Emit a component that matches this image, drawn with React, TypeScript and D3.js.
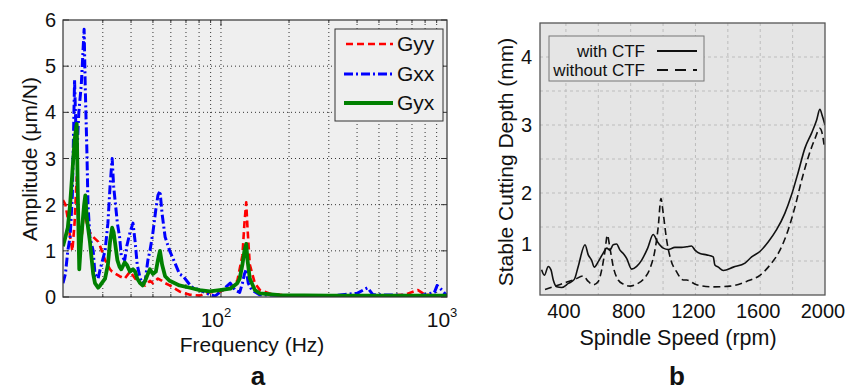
import React from 'react';
import * as d3 from 'd3';

// ---- panel a: FRF amplitudes ----
const freqGyy = [20, 20.5, 21, 21.5, 22, 22.5, 23, 23.5, 24.1, 24.8, 25.5, 26.3, 27.2, 28.6, 29.2, 30.7, 32.3, 33, 35.6, 37.5, 39.6, 41.7, 43.9, 46.2, 48.5, 50, 52.6, 54.9, 56.6, 59.3, 65.5, 72.8, 80.5, 89.1, 98.7, 109.9, 118.1, 124.4, 127, 129.3, 131, 134.1, 141.2, 148.7, 165, 200, 300, 500, 650, 744, 800, 1000];
const ampGyy = [2.1, 2.0, 1.7, 1.3, 1.0, 1.6, 2.6, 1.5, 1.2, 1.9, 1.6, 1.4, 1.3, 1.2, 1.1, 0.8, 0.6, 0.55, 0.45, 0.4, 0.55, 0.4, 0.3, 0.25, 0.35, 0.3, 0.4, 0.35, 0.3, 0.25, 0.12, 0.05, 0.03, 0.1, 0.12, 0.2, 0.35, 0.9, 1.6, 2.05, 1.5, 0.7, 0.3, 0.15, 0.07, 0.03, 0.02, 0.02, 0.05, 0.15, 0.05, 0.02];

const freqGxx = [20, 20.5, 21, 21.5, 22, 22.5, 23, 23.5, 24.1, 24.8, 25.1, 25.5, 25.8, 26.3, 27.2, 27.7, 28.6, 29.2, 30.7, 31.6, 32.3, 33, 33.5, 34.8, 35.6, 36.2, 37.5, 38.3, 39.6, 40.8, 41.7, 42.6, 43.9, 45, 46.2, 47.5, 48.5, 50, 51.5, 52.6, 53.7, 54.9, 56.6, 59.3, 62.4, 65.5, 68, 74, 80.5, 89.1, 94.1, 98.7, 104.3, 109.9, 115.3, 121, 124.4, 127, 129.3, 132, 137, 148, 200, 300, 400, 445, 470, 620, 750, 880, 904, 950, 1000];
const ampGxx = [0.3, 0.5, 1.0, 1.3, 2.2, 4.7, 3.0, 4.0, 4.6, 5.8, 4.5, 3.2, 2.0, 1.3, 1.0, 0.5, 0.4, 0.6, 1.0, 1.6, 2.4, 3.0, 2.4, 1.6, 1.3, 0.9, 0.8, 1.1, 1.4, 1.6, 1.2, 0.7, 0.4, 0.3, 0.35, 0.8, 1.0, 1.4, 1.9, 2.2, 2.3, 1.8, 1.3, 1.0, 0.75, 0.5, 0.45, 0.22, 0.15, 0.05, 0.02, 0.1, 0.2, 0.3, 0.15, 0.1, 0.3, 0.5, 0.6, 0.3, 0.15, 0.05, 0.03, 0.02, 0.08, 0.2, 0.05, 0.04, 0.02, 0.1, 0.25, 0.15, 0.02];

const freqGyx = [20, 20.5, 21, 21.5, 22, 22.5, 23, 23.3, 23.6, 24.1, 24.8, 25.1, 25.5, 26.3, 27.2, 27.7, 28.6, 29.2, 30.7, 31.6, 32.3, 33, 33.5, 34.8, 35.6, 36.2, 37.5, 38.3, 39.6, 40.8, 41.7, 42.6, 43.9, 45, 46.2, 47.5, 48.5, 50, 51.5, 52.6, 53.7, 54.9, 56.6, 59.3, 65.5, 72.8, 80.5, 89.1, 98.7, 109.9, 118.1, 121, 124.4, 127, 129.3, 131, 134.1, 141.2, 148.7, 182, 300, 1000];
const ampGyx = [1.1, 1.3, 1.5, 2.0, 2.7, 3.4, 3.75, 2.0, 0.6, 1.3, 2.0, 2.2, 1.7, 1.2, 0.5, 0.3, 0.2, 0.25, 0.4, 0.7, 1.2, 1.5, 1.4, 0.8, 0.65, 0.6, 0.75, 0.7, 0.55, 0.6, 0.55, 0.4, 0.3, 0.25, 0.35, 0.5, 0.6, 0.5, 0.55, 0.8, 1.0, 0.7, 0.45, 0.35, 0.25, 0.2, 0.15, 0.12, 0.15, 0.18, 0.3, 0.4, 0.7, 1.0, 1.15, 0.8, 0.4, 0.15, 0.08, 0.04, 0.03, 0.03];

const freqGrid = [30, 40, 50, 60, 70, 80, 90, 100, 200, 300, 400, 500, 600, 700, 800, 900];
const ampTicks = [0, 1, 2, 3, 4, 5, 6];

// ---- panel b: stability lobes ----
const rpmWith = [250, 267, 291, 308, 322, 343, 374, 415, 452, 476, 518, 538, 559, 575, 600, 631, 652, 672, 692, 713, 734, 754, 775, 806, 837, 867, 905, 939, 966, 1001, 1032, 1073, 1115, 1146, 1176, 1197, 1228, 1269, 1310, 1320, 1341, 1372, 1434, 1506, 1547, 1598, 1649, 1701, 1752, 1793, 1835, 1876, 1917, 1948, 1968, 1985, 2000];
const depthWith = [0.87, 0.79, 0.92, 0.87, 0.72, 0.62, 0.61, 0.67, 0.73, 0.92, 1.24, 1.09, 1.01, 0.91, 0.99, 1.12, 1.19, 1.16, 1.24, 1.25, 1.16, 1.11, 1.04, 0.88, 0.92, 1.01, 1.19, 1.39, 1.28, 1.19, 1.17, 1.2, 1.2, 1.21, 1.22, 1.16, 1.11, 1.09, 1.06, 0.94, 0.91, 0.86, 0.91, 0.97, 1.06, 1.14, 1.28, 1.46, 1.7, 1.97, 2.31, 2.66, 2.88, 3.07, 3.23, 3.12, 3.0];

const rpmWithout = [271, 333, 394, 456, 507, 538, 569, 600, 621, 641, 656, 672, 692, 723, 754, 796, 837, 878, 919, 950, 970, 987, 1001, 1022, 1049, 1084, 1125, 1146, 1207, 1310, 1413, 1516, 1598, 1660, 1722, 1773, 1815, 1856, 1897, 1938, 1968, 1985, 1994];
const depthWithout = [0.58, 0.63, 0.68, 0.73, 0.78, 0.7, 0.65, 0.7, 0.87, 1.14, 1.38, 1.19, 0.92, 0.72, 0.66, 0.63, 0.66, 0.73, 0.89, 1.16, 1.5, 1.92, 1.7, 1.31, 1.01, 0.84, 0.72, 0.72, 0.65, 0.62, 0.63, 0.7, 0.79, 0.94, 1.16, 1.46, 1.8, 2.19, 2.53, 2.8, 2.95, 2.85, 2.71];

const rpmTicks = [400, 800, 1200, 1600, 2000];
const rpmGrid = [400, 600, 800, 1000, 1200, 1400, 1600, 1800];
const depthGrid = [1, 1.5, 2, 2.5, 3, 3.5, 4];
const depthTickLabels = ['4', '3', '2', '1'];
const depthTickPos = [4, 3, 2, 1.25];

const FONT = '"Liberation Sans", Arial, Helvetica, sans-serif';

const App: React.FC = () => {
  // panel a scales
  const xA = d3.scaleLog().domain([20, 1000]).range([63, 447]);
  const yA = d3.scaleLinear().domain([0, 6]).range([297, 20]);
  const lineA = (fs: number[], as: number[]) =>
    d3.line<number>().x((_, i) => xA(fs[i])).y((_, i) => yA(as[i])).curve(d3.curveLinear)(fs) || '';

  // panel b scales
  const xB = d3.scaleLinear().domain([240, 2000]).range([540, 825]);
  const yB = d3.scaleLinear().domain([0.5, 4.5]).range([295, 23]);
  const lineB = (rs: number[], ds: number[]) =>
    d3.line<number>().x((_, i) => xB(rs[i])).y((_, i) => yB(ds[i])).curve(d3.curveMonotoneX)(rs) || '';

  const minorTicks = d3.range(2, 10).map(k => [k * 10, k * 100]).flat().filter(f => f > 20 && f < 1000);

  return (
    <div style={{ position: 'fixed', left: 0, top: 0 }}>
      <svg width={864} height={391} style={{ display: 'block', background: '#fff', fontFamily: FONT }}>
        {/* ---------- panel a ---------- */}
        <defs>
          <clipPath id="clipA"><rect x={63} y={20} width={384} height={277} /></clipPath>
          <clipPath id="clipB"><rect x={540} y={23} width={285} height={272} /></clipPath>
        </defs>
        <rect x={63} y={20} width={384} height={277} fill="#efefef" />
        {freqGrid.map(f => (
          <line key={'ga' + f} x1={xA(f)} x2={xA(f)} y1={20} y2={297} stroke="#333" strokeWidth={1} strokeDasharray="1,3" />
        ))}
        {ampTicks.slice(1, -1).map(v => (
          <line key={'gy' + v} x1={63} x2={447} y1={yA(v)} y2={yA(v)} stroke="#333" strokeWidth={1} strokeDasharray="1,3" />
        ))}
        {/* ticks */}
        {minorTicks.map(f => (
          <g key={'mt' + f}>
            <line x1={xA(f)} x2={xA(f)} y1={297} y2={294} stroke="#333" />
            <line x1={xA(f)} x2={xA(f)} y1={20} y2={23} stroke="#333" />
          </g>
        ))}
        {[100].map(f => (
          <g key={'mj' + f}>
            <line x1={xA(f)} x2={xA(f)} y1={297} y2={291} stroke="#333" />
            <line x1={xA(f)} x2={xA(f)} y1={20} y2={26} stroke="#333" />
          </g>
        ))}
        {ampTicks.map(v => (
          <g key={'yt' + v}>
            <line x1={63} x2={69} y1={yA(v)} y2={yA(v)} stroke="#333" />
            <line x1={447} x2={441} y1={yA(v)} y2={yA(v)} stroke="#333" />
            <text x={56} y={yA(v) + 7} fontSize={20} textAnchor="end" fill="#111">{v}</text>
          </g>
        ))}
        <g clipPath="url(#clipA)" fill="none" strokeLinejoin="round">
          <path d={lineA(freqGyy, ampGyy)} stroke="#ff0000" strokeWidth={2.6} strokeDasharray="7,4" />
          <path d={lineA(freqGxx, ampGxx)} stroke="#0000ff" strokeWidth={3} strokeDasharray="9,3,2,3" />
          <path d={lineA(freqGyx, ampGyx)} stroke="#008000" strokeWidth={3.8} />
        </g>
        <rect x={63} y={20} width={384} height={277} fill="none" stroke="#333" strokeWidth={1.2} />
        {[100, 1000].map((f, i) => (
          <text key={'xl' + f} x={xA(f) - 5} y={327} fontSize={21} textAnchor="middle" fill="#111">
            10<tspan dy={-10} fontSize={13}>{i + 2}</tspan>
          </text>
        ))}
        <text x={252} y={352} fontSize={21} textAnchor="middle" fill="#111">Frequency (Hz)</text>
        <text transform="translate(37,159) rotate(-90)" fontSize={21} textAnchor="middle" fill="#111">Amplitude (μm/N)</text>
        {/* legend a */}
        <rect x={335} y={29} width={108} height={92} fill="#efefef" stroke="#333" strokeWidth={1} />
        <line x1={346} x2={393} y1={44} y2={44} stroke="#ff0000" strokeWidth={2.6} strokeDasharray="7,4" />
        <line x1={344} x2={393} y1={74} y2={74} stroke="#0000ff" strokeWidth={3} strokeDasharray="9,3,2,3" />
        <line x1={344} x2={393} y1={103} y2={103} stroke="#008000" strokeWidth={3.8} />
        <text x={397} y={51} fontSize={21} fill="#111">Gyy</text>
        <text x={397} y={81} fontSize={21} fill="#111">Gxx</text>
        <text x={397} y={110} fontSize={21} fill="#111">Gyx</text>
        <text x={258} y={385} fontSize={26} fontWeight="bold" textAnchor="middle" fill="#111">a</text>

        {/* ---------- panel b ---------- */}
        <rect x={540} y={23} width={285} height={272} fill="#e5e5e5" />
        {rpmGrid.map(r => (
          <line key={'gb' + r} x1={xB(r)} x2={xB(r)} y1={23} y2={295} stroke="#bdbdbd" strokeWidth={1} strokeDasharray="3,3" />
        ))}
        {depthGrid.map(v => (
          <line key={'gd' + v} x1={540} x2={825} y1={yB(v)} y2={yB(v)} stroke="#bdbdbd" strokeWidth={1} strokeDasharray="3,3" />
        ))}
        <g clipPath="url(#clipB)" fill="none" stroke="#111" strokeLinejoin="round">
          <path d={lineB(rpmWith, depthWith)} strokeWidth={1.6} />
          <path d={lineB(rpmWithout, depthWithout)} strokeWidth={1.6} strokeDasharray="7,4" />
        </g>
        <rect x={540} y={23} width={285} height={272} fill="none" stroke="#555" strokeWidth={1.3} />
        {rpmTicks.map(r => (
          <text key={'rt' + r} x={xB(r) - 2} y={318} fontSize={20} textAnchor="middle" fill="#111">{r}</text>
        ))}
        {depthTickLabels.map((t, i) => (
          <text key={'dt' + t} x={532} y={yB(depthTickPos[i]) + 7} fontSize={20} textAnchor="end" fill="#111">{t}</text>
        ))}
        <text x={678} y={345} fontSize={21.5} textAnchor="middle" fill="#111">Spindle Speed (rpm)</text>
        <text transform="translate(513,162) rotate(-90)" fontSize={21} textAnchor="middle" fill="#111">Stable Cutting Depth (mm)</text>
        {/* legend b */}
        <rect x={549} y={36} width={155} height={45} fill="#e5e5e5" stroke="#777" strokeWidth={1} />
        <text x={645} y={57} fontSize={17} textAnchor="end" fill="#111">with CTF</text>
        <text x={645} y={76} fontSize={17} textAnchor="end" fill="#111">without CTF</text>
        <line x1={657} x2={697} y1={51} y2={51} stroke="#111" strokeWidth={2} />
        <line x1={657} x2={697} y1={70} y2={70} stroke="#111" strokeWidth={2} strokeDasharray="11,7" />
        <text x={677} y={385} fontSize={26} fontWeight="bold" textAnchor="middle" fill="#111">b</text>
      </svg>
    </div>
  );
};

export default App;
